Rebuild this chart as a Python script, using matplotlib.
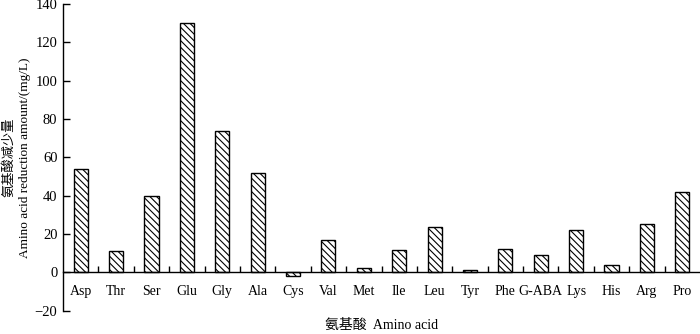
"""Amino acid reduction amount bar chart."""

import matplotlib

matplotlib.use("Agg")
import matplotlib.pyplot as plt
import numpy as np

AMINO_ACIDS = [
    "Asp", "Thr", "Ser", "Glu", "Gly", "Ala", "Cys", "Val", "Met",
    "Ile", "Leu", "Tyr", "Phe", "G-ABA", "Lys", "His", "Arg", "Pro",
]
REDUCTION = [
    53.8, 11.3, 39.7, 130.2, 73.7, 51.7, -2.0, 17.1, 2.4,
    11.7, 23.7, 1.4, 12.4, 8.9, 22.3, 3.7, 25.1, 41.8,
]
Y_TICKS = [-20, 0, 20, 40, 60, 80, 100, 120, 140]

plt.rcParams["font.family"] = ["Liberation Serif", "Noto Sans CJK SC"]
plt.rcParams["hatch.linewidth"] = 0.8

fig = plt.figure(figsize=(7.0, 3.34), dpi=100)
ax = fig.add_axes([0.09, 0.07, 0.91, 0.918])

x = np.arange(len(AMINO_ACIDS))
ax.bar(x, REDUCTION, width=0.4, color="white", edgecolor="black",
       linewidth=1.0, hatch="\\\\\\\\\\")

ax.set_xlim(-0.5, len(AMINO_ACIDS) - 0.5)
ax.set_ylim(-20, 140)
ax.set_yticks(Y_TICKS)
ax.set_yticklabels([f"{v}".replace("-", "\u2212") for v in Y_TICKS])

ax.spines["top"].set_visible(False)
ax.spines["right"].set_visible(False)
ax.spines["bottom"].set_position(("data", 0))
ax.spines["left"].set_linewidth(1.0)
ax.spines["bottom"].set_linewidth(1.0)

ax.set_xticks(x)
ax.set_xticklabels(AMINO_ACIDS, fontsize=10)
ax.set_xticks(np.arange(0.5, len(AMINO_ACIDS) - 1, 1.0), minor=True)
ax.tick_params(axis="x", which="major", length=0, pad=9)
ax.tick_params(axis="x", which="minor", direction="in", length=4, width=1.0)
ax.tick_params(axis="y", direction="in", length=5, width=1.0,
               labelsize=10.5, pad=4)

ax.set_ylabel("氨基酸减少量\nAmino acid reduction amount/(mg/L)",
              fontsize=9.5, linespacing=1.3)
ax.yaxis.set_label_coords(-0.051, 0.5)
fig.text(0.545, 0.005, "氨基酸  Amino acid", ha="center", va="bottom",
         fontsize=10)

fig.savefig("out.png", dpi=100)
